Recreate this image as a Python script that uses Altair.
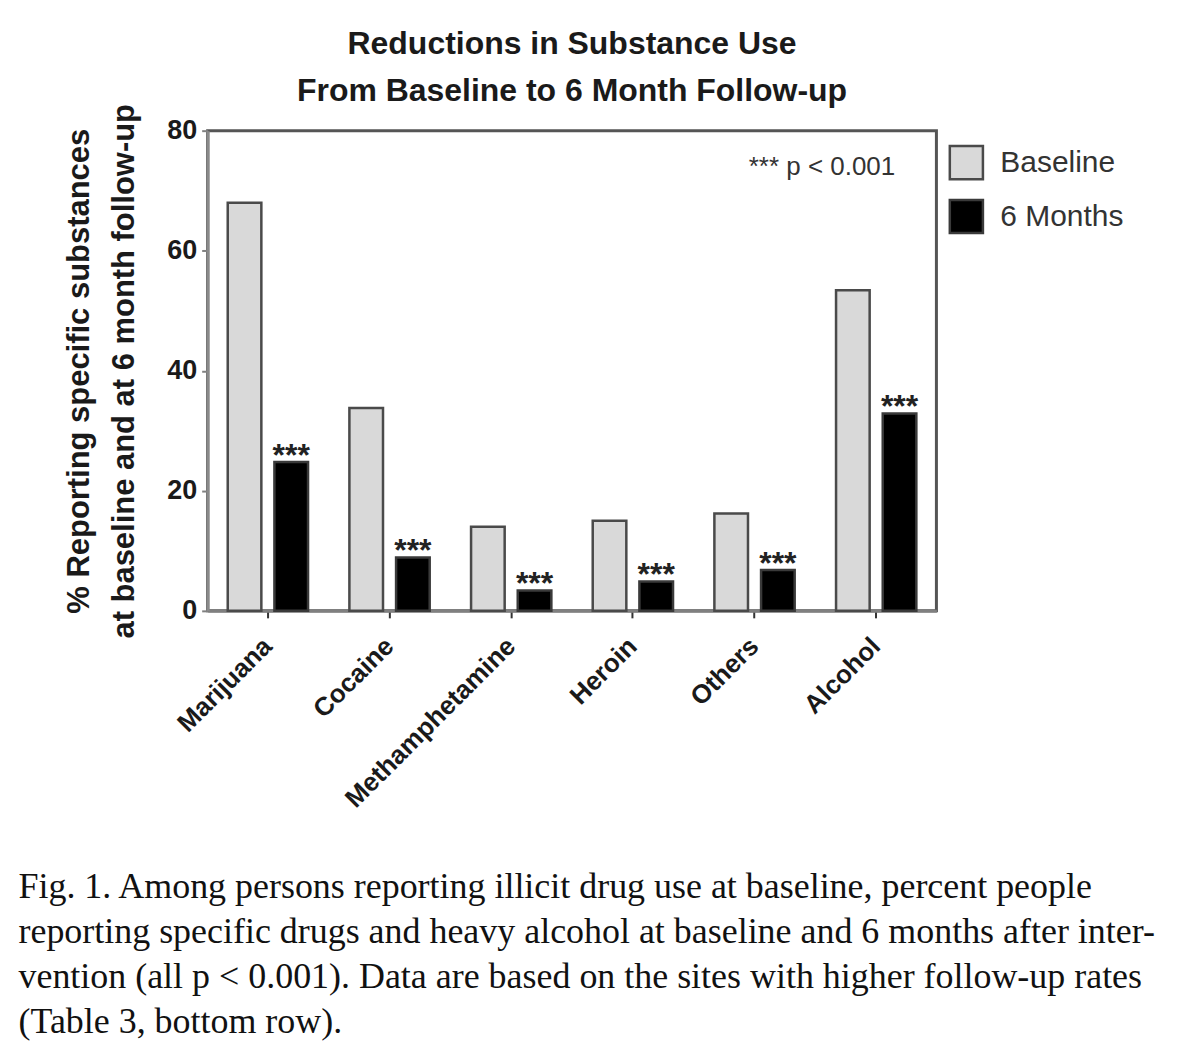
import altair as alt
import pandas as pd

# ---- data ----
categories = ["Marijuana", "Cocaine", "Methamphetamine", "Heroin", "Others", "Alcohol"]
series = ["Baseline", "6 Months"]
baseline_pct = [68.0, 33.8, 14.0, 15.0, 16.2, 53.4]
six_month_pct = [24.8, 8.9, 3.4, 4.9, 6.8, 32.9]
y_ticks = [0, 20, 40, 60, 80]
star_text = "***"
annotation_text = ["*** p < 0.001"]

title_lines = ["Reductions in Substance Use", "From Baseline to 6 Month Follow-up"]
y_title_lines = ["% Reporting specific substances", "at baseline and at 6 month follow-up"]
caption_lines = [
    "Fig. 1. Among persons reporting illicit drug use at baseline, percent people",
    "reporting specific drugs and heavy alcohol at baseline and 6 months after inter-",
    "vention (all p < 0.001). Data are based on the sites with higher follow-up rates",
    "(Table 3, bottom row).",
]

rows = []
for c, b, s in zip(categories, baseline_pct, six_month_pct):
    rows.append({"substance": c, "series": "Baseline", "value": b})
    rows.append({"substance": c, "series": "6 Months", "value": s})
df = pd.DataFrame(rows)

SANS = "Liberation Sans"
SERIF = "Liberation Serif"

x_enc = alt.X(
    "substance:N",
    sort=categories,
    scale=alt.Scale(paddingInner=0.34, paddingOuter=0.165),
    axis=alt.Axis(
        labelAngle=315,
        labelAlign="right",
        labelBaseline="middle",
        labelFont=SANS,
        labelFontSize=26,
        labelFontWeight="bold",
        labelColor="#1a1a1a",
        labelPadding=24,
        labelLimit=0,
        tickSize=7,
        tickWidth=2,
        tickColor="#333333",
        domainColor="#808080",
        domainWidth=3,
        title=caption_lines,
        titleFont=SERIF,
        titleFontSize=36,
        titleFontWeight="normal",
        titleColor="#111111",
        titleAlign="left",
        titleBaseline="top",
        titleAngle=0,
        titleX=-190,
        titleY=259,
        titleLineHeight=45,
    ),
)
xoff_enc = alt.XOffset(
    "series:N", sort=series, scale=alt.Scale(domain=series, paddingInner=0.28, paddingOuter=0)
)
y_enc = alt.Y(
    "value:Q",
    scale=alt.Scale(domain=[0, 80], nice=False),
    axis=alt.Axis(
        values=y_ticks,
        grid=False,
        labelFont=SANS,
        labelFontSize=27,
        labelFontWeight="bold",
        labelColor="#1a1a1a",
        labelPadding=5,
        tickSize=6,
        tickWidth=2,
        tickColor="#808080",
        domainColor="#8a8a8a",
        domainWidth=3,
        title=y_title_lines,
        titleFont=SANS,
        titleFontSize=31,
        titleFontWeight="bold",
        titleColor="#1a1a1a",
        titleLineHeight=45,
        titlePadding=26,
    ),
)

bars = alt.Chart(df).mark_bar(strokeWidth=2.5).encode(
    x=x_enc,
    xOffset=xoff_enc,
    y=y_enc,
    fill=alt.Fill(
        "series:N",
        sort=series,
        scale=alt.Scale(domain=series, range=["#d9d9d9", "#000000"]),
        legend=alt.Legend(
            title=None,
            orient="none",
            legendX=742,
            legendY=14,
            symbolType="square",
            symbolSize=1100,
            symbolStrokeColor="#333333",
            symbolStrokeWidth=2.5,
            labelFont=SANS,
            labelFontSize=30,
            labelColor="#333333",
            labelOffset=16,
            rowPadding=10,
        ),
    ),
    stroke=alt.Stroke(
        "series:N",
        scale=alt.Scale(domain=series, range=["#4a4a4a", "#3a3a3a"]),
        legend=None,
    ),
)

stars = (
    alt.Chart(df)
    .transform_filter(alt.datum.series == "6 Months")
    .mark_text(text=star_text, dy=-6, fontSize=32, fontWeight="bold", font=SANS, color="#222222")
    .encode(x=alt.X("substance:N", sort=categories), xOffset=alt.XOffset("series:N", sort=series), y="value:Q")
)

note = (
    alt.Chart(pd.DataFrame({"label": annotation_text}))
    .mark_text(align="right", baseline="middle", dx=19, fontSize=26, font=SANS, color="#333333")
    .encode(x=alt.datum("Alcohol"), y=alt.datum(74), text="label:N")
)

chart = (
    alt.layer(bars, stars, note)
    .properties(
        width=730,
        height=481,
        title=alt.TitleParams(
            text=title_lines,
            font=SANS,
            fontSize=32,
            fontWeight="bold",
            color="#1a1a1a",
            lineHeight=47,
            anchor="middle",
            offset=22,
            dy=27,
        ),
        autosize=alt.AutoSizeParams(type="none"),
        padding={"left": 200, "top": 122, "right": 245, "bottom": 430},
        background="white",
    )
    .configure_view(stroke="#555555", strokeWidth=3)
)

chart.save("out.html", embed_options={"renderer": "svg", "actions": False})
